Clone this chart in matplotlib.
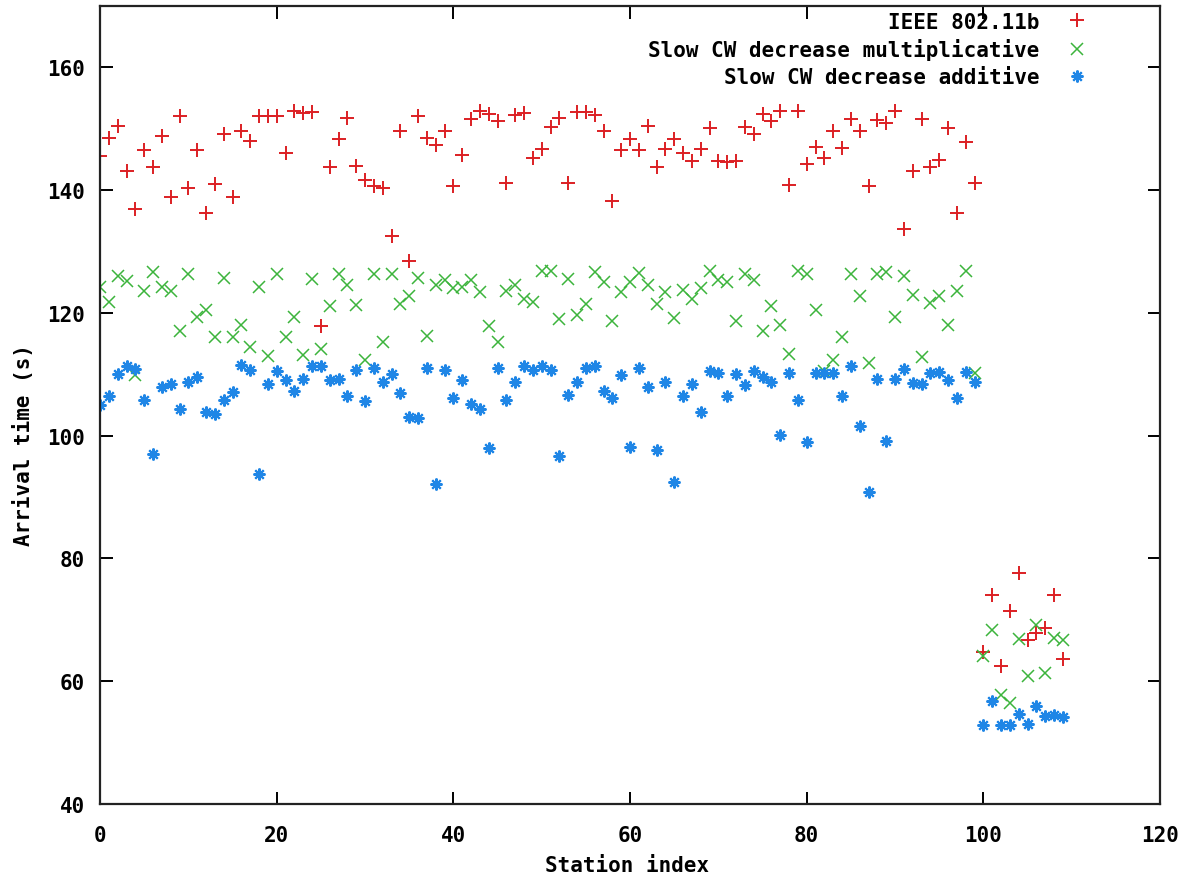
import numpy as np
import matplotlib
matplotlib.use('Agg')
import matplotlib.pyplot as plt

plt.rcParams['font.family'] = ['DejaVu Sans Mono']
plt.rcParams['font.weight'] = 'bold'

# arrival time (s) per station, stations 0..109
ieee_80211b = [
    145.6, 148.5, 150.5, 143.1, 137.0, 146.5, 143.8, 148.8, 138.9, 152.0,
    140.4, 146.5, 136.2, 141.0, 149.2, 138.9, 149.6, 148.0, 152.0, 152.1,
    152.0, 146.1, 152.9, 152.5, 152.7, 117.8, 143.7, 148.3, 151.8, 144.0,
    141.6, 140.7, 140.4, 132.5, 149.7, 128.5, 152.0, 148.5, 147.3, 149.7,
    140.7, 145.8, 151.6, 152.9, 152.4, 151.3, 141.2, 152.2, 152.5, 145.3,
    146.7, 150.3, 151.7, 141.2, 152.7, 152.8, 152.3, 149.7, 138.2, 146.5,
    148.3, 146.5, 150.4, 143.8, 146.7, 148.3, 146.0, 144.7, 146.7, 150.1,
    144.7, 144.6, 144.7, 150.3, 149.2, 152.4, 151.3, 152.9, 140.9, 152.9,
    144.3, 147.0, 145.3, 149.7, 146.8, 151.6, 149.7, 140.7, 151.4, 151.0,
    152.9, 133.6, 143.1, 151.6, 143.7, 144.9, 150.1, 136.2, 147.8, 141.2,
    64.7, 74.1, 62.5, 71.5, 77.6, 66.7, 67.9, 68.7, 74.0, 63.7,
]

slow_cw_mult = [
    124.2, 121.8, 126.0, 125.2, 109.9, 123.6, 126.7, 124.2, 123.6, 117.1,
    126.4, 119.3, 120.4, 116.0, 125.7, 116.0, 118.1, 114.4, 124.2, 113.0,
    126.3, 116.0, 119.4, 113.2, 125.6, 114.2, 121.1, 126.3, 124.5, 121.3,
    112.4, 126.4, 115.3, 126.4, 121.5, 122.7, 125.7, 116.3, 124.6, 125.3,
    124.1, 124.2, 125.3, 123.4, 117.8, 115.3, 123.6, 124.5, 122.3, 121.8,
    126.9, 126.9, 119.0, 125.6, 119.6, 121.5, 126.7, 125.1, 118.7, 123.4,
    125.1, 126.5, 124.5, 121.5, 123.4, 119.2, 123.8, 122.3, 124.1, 126.9,
    125.4, 125.1, 118.7, 126.4, 125.4, 117.1, 121.1, 118.1, 113.3, 126.9,
    126.4, 120.5, 110.5, 112.4, 116.0, 126.4, 122.7, 111.8, 126.4, 126.7,
    119.3, 126.0, 123.0, 112.9, 121.6, 122.7, 118.1, 123.5, 126.9, 110.2,
    64.1, 68.4, 57.8, 56.5, 66.8, 60.9, 69.2, 61.4, 67.0, 66.7,
]

slow_cw_add = [
    105.0, 106.5, 110.0, 111.3, 110.9, 105.8, 97.0, 108.0, 108.4, 104.4,
    108.7, 109.6, 103.8, 103.5, 105.8, 107.1, 111.5, 110.7, 93.7, 108.4,
    110.6, 109.0, 107.3, 109.3, 111.3, 111.4, 109.0, 109.3, 106.5, 110.7,
    105.6, 111.1, 108.8, 110.0, 106.9, 103.1, 102.9, 111.0, 92.2, 110.7,
    106.2, 109.0, 105.1, 104.4, 98.0, 111.0, 105.8, 108.7, 111.4, 110.7,
    111.4, 110.7, 96.7, 106.6, 108.7, 111.1, 111.4, 107.2, 106.2, 109.9,
    98.2, 111.1, 108.0, 97.7, 108.7, 92.4, 106.5, 108.4, 103.9, 110.6,
    110.2, 106.5, 110.0, 108.2, 110.6, 109.6, 108.7, 100.1, 110.2, 105.8,
    98.9, 110.2, 110.2, 110.2, 106.5, 111.3, 101.5, 90.9, 109.3, 99.2,
    109.3, 110.9, 108.6, 108.4, 110.2, 110.4, 109.0, 106.2, 110.3, 108.7,
    52.9, 56.7, 52.9, 52.9, 54.7, 53.0, 56.0, 54.4, 54.5, 54.2,
]

stations = np.arange(len(ieee_80211b))

fig = plt.figure(figsize=(11.78, 8.78), dpi=100)
ax = fig.add_axes([100 / 1178, 73 / 878, 1060 / 1178, 798 / 878])

ms = 9
ax.plot(stations, ieee_80211b, linestyle='none', marker='+', ms=ms * 1.05, mew=1.4,
        color='#dc1f24', label='IEEE 802.11b')
ax.plot(stations, slow_cw_mult, linestyle='none', marker='x', ms=ms * 0.9, mew=1.1,
        color='#3cb43c', label='Slow CW decrease multiplicative')
# gnuplot style asterisk: + and x on top of each other
ax.plot(stations, slow_cw_add, linestyle='none', marker=(8, 2, 0), ms=ms * 0.95, mew=1.5,
        color='#1f86e6', label='Slow CW decrease additive')

ax.set_xlim(0, 120)
ax.set_ylim(40, 170)
ax.set_xticks(np.arange(0, 121, 20))
ax.set_yticks(np.arange(40, 161, 20))

fs = 15
ax.tick_params(direction='in', length=9, width=1.4, top=True, right=True,
               labelsize=fs)
ax.tick_params(axis='x', pad=15)
ax.tick_params(axis='y', pad=11)
for lbl in ax.get_xticklabels() + ax.get_yticklabels():
    lbl.set_fontweight('bold')
for sp in ax.spines.values():
    sp.set_linewidth(1.6)
    sp.set_color('#222222')

ax.set_xlabel('Station index', fontsize=fs, fontweight='bold')
ax.set_ylabel('Arrival time (s)', fontsize=fs, fontweight='bold')
ax.xaxis.set_label_coords(0.497, -0.064)
ax.yaxis.set_label_coords(-0.062, 0.451)

leg = ax.legend(loc='upper right', bbox_to_anchor=(0.9315, 0.993), markerfirst=False,
                frameon=False, fontsize=fs, handlelength=1.0, handletextpad=1.3,
                labelspacing=0.33, borderpad=0, borderaxespad=0)
for t in leg.get_texts():
    t.set_ha('right')
    t.set_fontweight('bold')

fig.savefig('out.png', dpi=100)
